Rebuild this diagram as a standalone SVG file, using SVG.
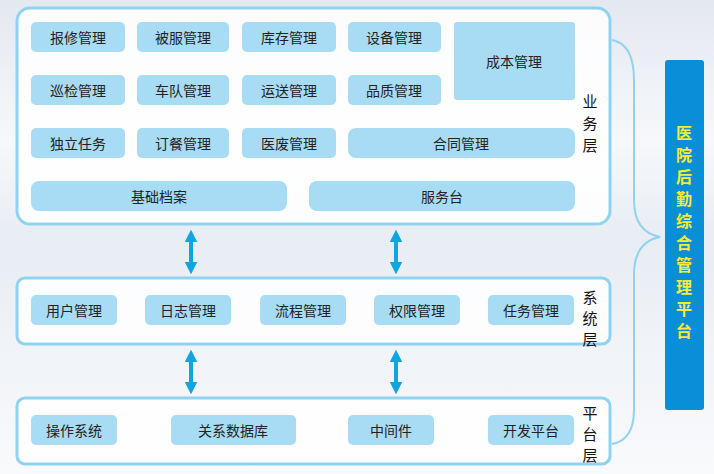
<svg xmlns="http://www.w3.org/2000/svg" width="714" height="474" viewBox="0 0 714 474">
<defs>
<linearGradient id="bg" x1="0" y1="0" x2="0" y2="1"><stop offset="0" stop-color="#e4e8ef"/><stop offset="0.3" stop-color="#f6f8fb"/><stop offset="0.5" stop-color="#e8edf3"/><stop offset="1" stop-color="#f9fafc"/></linearGradient>
<marker id="ah" viewBox="0 0 10 10" refX="5" refY="5" markerWidth="3.2" markerHeight="3.2" orient="auto-start-reverse"><path d="M0,0L10,5L0,10z" fill="#0ea5e0"/></marker>
</defs>
<style>
.layer{fill:#fff;fill-opacity:.85;stroke:#8fd3f0;stroke-width:3}
.n{fill:#a8dcf5}
.t{font-family:"Noto Sans CJK SC",sans-serif;font-size:14px;fill:#222;text-anchor:middle;dominant-baseline:central}
.lb{font-family:"Noto Sans CJK SC",sans-serif;font-size:15px;fill:#111;text-anchor:middle;dominant-baseline:central}
.ar{stroke:#0ea5e0;stroke-width:4;fill:none;marker-start:url(#ah);marker-end:url(#ah)}
.tt{font-family:"Noto Sans CJK SC",sans-serif;font-size:16px;font-weight:bold;fill:#f5ec3a;text-anchor:middle;dominant-baseline:central}
</style>
<rect width="714" height="474" fill="url(#bg)"/>
<g id="layer-business"><rect class="layer" x="17" y="8" width="593" height="216" rx="13"/>
<text class="lb" x="590" y="100">业</text><text class="lb" x="590" y="122">务</text><text class="lb" x="590" y="144">层</text></g>
<g id="layer-system"><rect class="layer" x="17" y="278" width="593" height="66" rx="8"/>
<text class="lb" x="590" y="296">系</text><text class="lb" x="590" y="317">统</text><text class="lb" x="590" y="338">层</text></g>
<g id="layer-platform"><rect class="layer" x="17" y="398" width="593" height="66" rx="8"/>
<text class="lb" x="590" y="412">平</text><text class="lb" x="590" y="433">台</text><text class="lb" x="590" y="454">层</text></g>
<g id="n1"><rect class="n" x="31" y="22" width="94" height="30" rx="5"/><text class="t" x="78" y="37">报修管理</text></g>
<g id="n2"><rect class="n" x="137" y="22" width="92" height="30" rx="5"/><text class="t" x="183" y="37">被服管理</text></g>
<g id="n3"><rect class="n" x="242" y="22" width="94" height="30" rx="5"/><text class="t" x="289" y="37">库存管理</text></g>
<g id="n4"><rect class="n" x="348" y="22" width="93" height="30" rx="5"/><text class="t" x="394" y="37">设备管理</text></g>
<g id="n5"><rect class="n" x="454" y="22" width="121" height="78" rx="3"/><text class="t" x="514" y="61">成本管理</text></g>
<g id="n6"><rect class="n" x="31" y="75" width="94" height="30" rx="5"/><text class="t" x="78" y="90">巡检管理</text></g>
<g id="n7"><rect class="n" x="137" y="75" width="92" height="30" rx="5"/><text class="t" x="183" y="90">车队管理</text></g>
<g id="n8"><rect class="n" x="242" y="75" width="94" height="30" rx="5"/><text class="t" x="289" y="90">运送管理</text></g>
<g id="n9"><rect class="n" x="348" y="75" width="93" height="30" rx="5"/><text class="t" x="394" y="90">品质管理</text></g>
<g id="n10"><rect class="n" x="31" y="128" width="94" height="30" rx="5"/><text class="t" x="78" y="143">独立任务</text></g>
<g id="n11"><rect class="n" x="137" y="128" width="92" height="30" rx="5"/><text class="t" x="183" y="143">订餐管理</text></g>
<g id="n12"><rect class="n" x="242" y="128" width="94" height="30" rx="5"/><text class="t" x="289" y="143">医废管理</text></g>
<g id="n13"><rect class="n" x="348" y="128" width="227" height="30" rx="8"/><text class="t" x="461" y="143">合同管理</text></g>
<g id="n14"><rect class="n" x="31" y="181" width="256" height="30" rx="8"/><text class="t" x="159" y="196">基础档案</text></g>
<g id="n15"><rect class="n" x="309" y="181" width="266" height="30" rx="8"/><text class="t" x="442" y="196">服务台</text></g>
<g id="s1"><rect class="n" x="31" y="295" width="86" height="30" rx="5"/><text class="t" x="74" y="310">用户管理</text></g>
<g id="s2"><rect class="n" x="145" y="295" width="86" height="30" rx="5"/><text class="t" x="188" y="310">日志管理</text></g>
<g id="s3"><rect class="n" x="260" y="295" width="86" height="30" rx="5"/><text class="t" x="303" y="310">流程管理</text></g>
<g id="s4"><rect class="n" x="374" y="295" width="86" height="30" rx="5"/><text class="t" x="417" y="310">权限管理</text></g>
<g id="s5"><rect class="n" x="488" y="295" width="86" height="30" rx="5"/><text class="t" x="531" y="310">任务管理</text></g>
<g id="p1"><rect class="n" x="31" y="415" width="86" height="30" rx="5"/><text class="t" x="74" y="430">操作系统</text></g>
<g id="p2"><rect class="n" x="171" y="415" width="125" height="30" rx="5"/><text class="t" x="233" y="430">关系数据库</text></g>
<g id="p3"><rect class="n" x="348" y="415" width="86" height="30" rx="5"/><text class="t" x="391" y="430">中间件</text></g>
<g id="p4"><rect class="n" x="488" y="415" width="86" height="30" rx="5"/><text class="t" x="531" y="430">开发平台</text></g>
<g id="connectors">
<line class="ar" x1="191" y1="236" x2="191" y2="268"/>
<line class="ar" x1="396" y1="236" x2="396" y2="268"/>
<line class="ar" x1="191" y1="356" x2="191" y2="388"/>
<line class="ar" x1="396" y1="356" x2="396" y2="388"/>
<path d="M612,40 Q634,44 634,80 L634,200 Q634,232 660,237 Q634,242 634,275 L634,410 Q634,440 612,444" fill="none" stroke="#8fd3f0" stroke-width="2"/>
</g>
<g id="title"><rect x="665" y="60" width="39" height="350" rx="3" fill="#0a8fd6"/>
<text class="tt" x="684" y="132">医</text><text class="tt" x="684" y="154">院</text><text class="tt" x="684" y="176">后</text><text class="tt" x="684" y="198">勤</text><text class="tt" x="684" y="220">综</text><text class="tt" x="684" y="242">合</text><text class="tt" x="684" y="264">管</text><text class="tt" x="684" y="286">理</text><text class="tt" x="684" y="308">平</text><text class="tt" x="684" y="330">台</text></g>
</svg>
